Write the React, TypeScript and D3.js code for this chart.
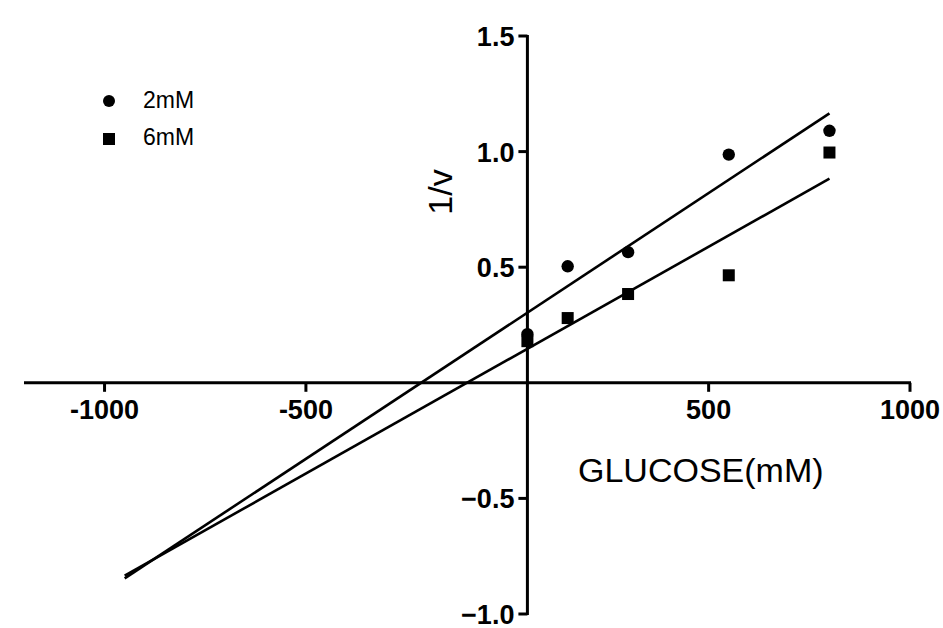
import React, { useEffect, useRef } from 'react';
import * as d3 from 'd3';

const W = 943;
const H = 628;

const glucose = [50, 150, 300, 550, 800];
const inv2mM = [0.21, 0.504, 0.565, 0.987, 1.09];
const inv6mM = [0.18, 0.28, 0.384, 0.465, 0.996];
const xTicks = [-1000, -500, 500, 1000];
const yTicks = [-1.0, -0.5, 0.5, 1.0, 1.5];
const seriesNames = ['2mM', '6mM'];

// least squares fit, like the prism linear regression
function fit(xs: number[], ys: number[]) {
  const mx = d3.mean(xs) as number;
  const my = d3.mean(ys) as number;
  let sxy = 0, sxx = 0;
  xs.forEach((x, i) => {
    sxy += (x - mx) * (ys[i] - my);
    sxx += (x - mx) * (x - mx);
  });
  const slope = sxy / sxx;
  return (x: number) => my + slope * (x - mx);
}

export default function App() {
  const ref = useRef<SVGSVGElement>(null);

  useEffect(() => {
    const svg = d3.select(ref.current);
    svg.selectAll('*').remove();

    const x = d3.scaleLinear().domain([-1200, 1000]).range([24, 910]);
    const y = d3.scaleLinear().domain([-1.0, 1.5]).range([614, 36]);
    const xCross = 50; // y axis sits at x = 50

    const font = 'Arial, "Liberation Sans", sans-serif';

    // x axis
    const gx = svg.append('g').attr('transform', `translate(0,${y(0)})`);
    gx.append('line')
      .attr('x1', x(-1200)).attr('x2', x(1000) + 1)
      .attr('stroke', '#000').attr('stroke-width', 3);
    xTicks.forEach(t => {
      gx.append('line')
        .attr('x1', x(t)).attr('x2', x(t))
        .attr('y1', 0).attr('y2', 9)
        .attr('stroke', '#000').attr('stroke-width', 3);
      gx.append('text')
        .attr('x', x(t)).attr('y', 36)
        .attr('text-anchor', 'middle')
        .attr('font-family', font).attr('font-weight', 'bold').attr('font-size', 27)
        .text(String(t));
    });

    // y axis
    const gy = svg.append('g').attr('transform', `translate(${x(xCross)},0)`);
    gy.append('line')
      .attr('y1', y(1.5) - 1).attr('y2', y(-1.0) + 1)
      .attr('stroke', '#000').attr('stroke-width', 3);
    yTicks.forEach(t => {
      gy.append('line')
        .attr('x1', -9).attr('x2', 0)
        .attr('y1', y(t)).attr('y2', y(t))
        .attr('stroke', '#000').attr('stroke-width', 3);
      gy.append('text')
        .attr('x', -13).attr('y', y(t) + 10)
        .attr('text-anchor', 'end')
        .attr('font-family', font).attr('font-weight', 'bold').attr('font-size', 27)
        .text(d3.format('.1f')(t));
    });

    // axis titles
    svg.append('text')
      .attr('transform', `translate(452,192) rotate(-90)`)
      .attr('text-anchor', 'middle')
      .attr('font-family', font).attr('font-size', 34)
      .text('1/v');
    svg.append('text')
      .attr('x', 578).attr('y', 482)
      .attr('font-family', font).attr('font-size', 34)
      .text('GLUCOSE(mM)');

    // fit lines
    const line = d3.line<number>().x(d => x(d[0])).y(d => y(d[1]));
    [inv2mM, inv6mM].forEach(ys => {
      const f = fit(glucose, ys);
      const pts: any = [-950, 800].map(v => [v, f(v)]);
      svg.append('path')
        .attr('d', line(pts) as string)
        .attr('fill', 'none')
        .attr('stroke', '#000').attr('stroke-width', 2.6);
    });

    // points
    svg.append('g').selectAll('circle')
      .data(glucose)
      .join('circle')
      .attr('cx', (d: number) => x(d))
      .attr('cy', (d: number, i: number) => y(inv2mM[i]))
      .attr('r', 6.2)
      .attr('fill', '#000');
    svg.append('g').selectAll('rect')
      .data(glucose)
      .join('rect')
      .attr('x', (d: number) => x(d) - 6)
      .attr('y', (d: number, i: number) => y(inv6mM[i]) - 6)
      .attr('width', 12).attr('height', 12)
      .attr('fill', '#000');

    // legend
    const lg = svg.append('g');
    lg.append('circle').attr('cx', 109).attr('cy', 101).attr('r', 6).attr('fill', '#000');
    lg.append('rect').attr('x', 103).attr('y', 133).attr('width', 12).attr('height', 12).attr('fill', '#000');
    seriesNames.forEach((n, i) => {
      lg.append('text')
        .attr('x', 143).attr('y', 108 + i * 37)
        .attr('font-family', font).attr('font-size', 23)
        .text(n);
    });
  }, []);

  return (
    <svg
      ref={ref}
      width={W}
      height={H}
      style={{ position: 'absolute', left: 0, top: 0, background: '#fff' }}
    />
  );
}
